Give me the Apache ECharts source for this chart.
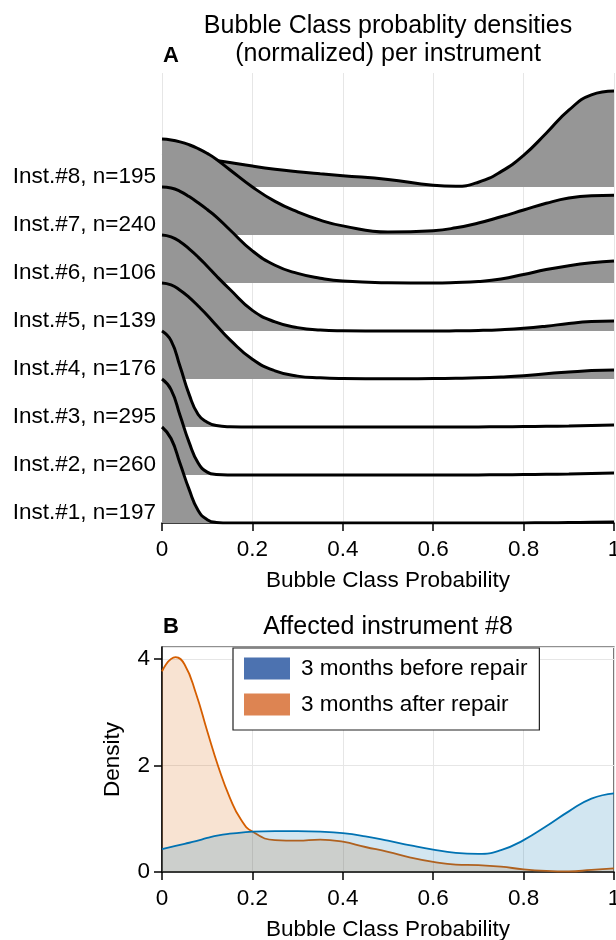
<!DOCTYPE html>
<html>
<head>
<meta charset="utf-8">
<script src="https://cdn.jsdelivr.net/npm/echarts@6/dist/echarts.min.js"></script>
<style>
  html, body { margin: 0; padding: 0; background: #fff; }
  #chart { width: 616px; height: 940px; }
</style>
</head>
<body>
<div id="chart"></div>
<script>
var FONT = '"Liberation Sans", Arial, Helvetica, sans-serif';

// panel A: normalized densities (max = 1) per instrument
var instLabels = ['Inst.#1, n=197', 'Inst.#2, n=260', 'Inst.#3, n=295', 'Inst.#4, n=176',
                  'Inst.#5, n=139', 'Inst.#6, n=106', 'Inst.#7, n=240', 'Inst.#8, n=195'];
var ridgeX = [0, 0.02, 0.04, 0.06, 0.08, 0.1, 0.12, 0.15, 0.2, 0.25, 0.3, 0.35, 0.4,
              0.5, 0.6, 0.65, 0.7, 0.75, 0.8, 0.85, 0.9, 0.95, 1];
var inst1 = [1.00, 0.88, 0.62, 0.35, 0.13, 0.035, 0.006, 0, 0, 0, 0, 0, 0, 0, 0, 0, 0, 0, 0.001, 0.002, 0.004, 0.007, 0.01];
var inst2 = [1.00, 0.89, 0.62, 0.34, 0.125, 0.03, 0.006, 0.001, 0, 0, 0, 0, 0, 0, 0, 0, 0.001, 0.002, 0.004, 0.007, 0.011, 0.016, 0.02];
var inst3 = [1.00, 0.90, 0.63, 0.34, 0.13, 0.05, 0.015, 0.003, 0, 0, 0, 0, 0, 0, 0, 0, 0.001, 0.002, 0.004, 0.007, 0.011, 0.016, 0.02];
var inst4 = [1.00, 0.98, 0.925, 0.85, 0.76, 0.665, 0.56, 0.41, 0.205, 0.085, 0.03, 0.012, 0.005, 0.002, 0.005, 0.008, 0.013, 0.022, 0.035, 0.055, 0.072, 0.088, 0.095];
var inst5 = [1.00, 0.98, 0.93, 0.855, 0.77, 0.675, 0.575, 0.435, 0.215, 0.095, 0.035, 0.01, 0.003, 0, 0, 0.002, 0.006, 0.014, 0.028, 0.05, 0.078, 0.098, 0.105];
var inst6 = [1.00, 0.99, 0.955, 0.90, 0.835, 0.765, 0.69, 0.555, 0.335, 0.185, 0.10, 0.05, 0.02, 0.003, 0, 0.005, 0.016, 0.042, 0.089, 0.14, 0.18, 0.21, 0.23];
var inst7 = [1.00, 0.99, 0.97, 0.94, 0.90, 0.85, 0.79, 0.68, 0.50, 0.35, 0.24, 0.155, 0.095, 0.03, 0.045, 0.075, 0.125, 0.19, 0.26, 0.33, 0.385, 0.41, 0.415];
var inst8 = [0.35, 0.345, 0.335, 0.322, 0.308, 0.293, 0.277, 0.255, 0.218, 0.186, 0.16, 0.138, 0.118, 0.078, 0.018, 0.008, 0.05, 0.16, 0.33, 0.56, 0.80, 0.96, 1.00];
var ridges = [inst1, inst2, inst3, inst4, inst5, inst6, inst7, inst8];
var ridgeScale = 2; // a ridge of max 1 spans two rows

// panel B: instrument #8 densities
var repairX = [0, 0.03, 0.05, 0.075, 0.1, 0.125, 0.15, 0.175, 0.2, 0.25, 0.3, 0.35, 0.4,
               0.45, 0.5, 0.55, 0.6, 0.65, 0.7, 0.75, 0.8, 0.85, 0.9, 0.95, 1];
var beforeRepair = [0.43, 0.49, 0.53, 0.58, 0.64, 0.69, 0.72, 0.74, 0.76, 0.77, 0.77, 0.76, 0.73,
                    0.67, 0.59, 0.50, 0.42, 0.36, 0.34, 0.41, 0.60, 0.86, 1.14, 1.38, 1.48];
var afterRepair = [3.77, 4.04, 3.90, 3.36, 2.65, 1.97, 1.40, 0.98, 0.76, 0.60, 0.59, 0.61, 0.57,
                   0.47, 0.38, 0.27, 0.19, 0.14, 0.13, 0.10, 0.05, 0.02, 0.01, 0.04, 0.07];

var chart = echarts.init(document.getElementById('chart'));

var series = [];
// #8 lowest z, so each lower ridge (fill and line) is painted over the ones above it
for (var k = ridges.length - 1; k >= 0; k--) {
  var d = ridges[k];
  series.push({
    name: instLabels[k],
    type: 'line',
    xAxisIndex: 0,
    yAxisIndex: 0,
    z: 2 + (ridges.length - 1 - k),
    smooth: 0.5,
    symbol: 'none',
    silent: true,
    data: ridgeX.map(function (x, i) { return [x, k + ridgeScale * d[i]]; }),
    lineStyle: { color: '#000', width: 3 },
    areaStyle: { color: '#969696', opacity: 1, origin: k }
  });
}

series.push({
  name: '3 months after repair',
  type: 'line',
  xAxisIndex: 1,
  yAxisIndex: 1,
  z: 2,
  smooth: 0.5,
  symbol: 'none',
  silent: true,
  data: repairX.map(function (x, i) { return [x, afterRepair[i]]; }),
  lineStyle: { color: '#d55e00', width: 1.8 },
  itemStyle: { color: '#d55e00' },
  areaStyle: { color: 'rgba(213,94,0,0.25)', origin: 0 }
});
series.push({
  name: '3 months before repair',
  type: 'line',
  xAxisIndex: 1,
  yAxisIndex: 1,
  z: 3,
  smooth: 0.5,
  symbol: 'none',
  silent: true,
  data: repairX.map(function (x, i) { return [x, beforeRepair[i]]; }),
  lineStyle: { color: '#0072b2', width: 1.8 },
  itemStyle: { color: '#0072b2' },
  areaStyle: { color: 'rgba(0,114,178,0.25)', origin: 0 }
});

var labelStyle = { fontFamily: FONT, fontSize: 22.5, color: '#000' };

var option = {
  backgroundColor: '#fff',
  animation: false,
  textStyle: { fontFamily: FONT },
  title: [
    {
      text: 'Bubble Class probablity densities\n(normalized) per instrument',
      left: 388, top: 12, padding: 0, textAlign: 'center',
      textStyle: { fontFamily: FONT, fontSize: 25, fontWeight: 'normal', lineHeight: 28, color: '#000' }
    },
    {
      text: 'A', left: 163, top: 45, padding: 0,
      textStyle: { fontFamily: FONT, fontSize: 22, fontWeight: 'bold', color: '#000' }
    },
    {
      text: 'Affected instrument #8',
      left: 388, top: 615, padding: 0, textAlign: 'center',
      textStyle: { fontFamily: FONT, fontSize: 25, fontWeight: 'normal', color: '#000' }
    },
    {
      text: 'B', left: 163, top: 616, padding: 0,
      textStyle: { fontFamily: FONT, fontSize: 22, fontWeight: 'bold', color: '#000' }
    }
  ],
  legend: {
    data: [
      { name: '3 months before repair', itemStyle: { color: '#4c72b0' } },
      { name: '3 months after repair', itemStyle: { color: '#dd8452' } }
    ],
    orient: 'vertical',
    left: 233,
    top: 648,
    icon: 'rect',
    itemWidth: 46,
    itemHeight: 22,
    itemGap: 13,
    padding: [9, 12, 14, 11],
    borderColor: '#222',
    borderWidth: 1.2,
    backgroundColor: '#fff',
    itemStyle: { borderWidth: 0 },
    textStyle: { fontFamily: FONT, fontSize: 22.5, color: '#000', padding: [0, 0, 0, 6] },
    selectedMode: false
  },
  grid: [
    { left: 162, top: 73, width: 452, height: 450, outerBoundsMode: 'none' },
    { left: 162, top: 647, width: 452, height: 225, show: true, borderColor: '#222',
      borderWidth: 1.2, backgroundColor: 'transparent', outerBoundsMode: 'none' }
  ],
  xAxis: [
    {
      gridIndex: 0, type: 'value', min: 0, max: 1, interval: 0.2,
      name: 'Bubble Class Probability', nameLocation: 'middle', nameGap: 46,
      nameTextStyle: labelStyle,
      axisLine: { show: true, lineStyle: { color: '#000', width: 1.5 } },
      axisTick: { show: true, length: 8, lineStyle: { color: '#000', width: 1.5 } },
      axisLabel: Object.assign({ margin: 15 }, labelStyle),
      splitLine: { show: true, lineStyle: { color: '#e6e6e6', width: 1 } }
    },
    {
      gridIndex: 1, type: 'value', min: 0, max: 1, interval: 0.2,
      name: 'Bubble Class Probability', nameLocation: 'middle', nameGap: 46,
      nameTextStyle: labelStyle,
      axisLine: { show: true, lineStyle: { color: '#000', width: 1.5 } },
      axisTick: { show: true, length: 8, lineStyle: { color: '#000', width: 1.5 } },
      axisLabel: Object.assign({ margin: 15 }, labelStyle),
      splitLine: { show: true, lineStyle: { color: '#e6e6e6', width: 1 } }
    }
  ],
  yAxis: [
    {
      gridIndex: 0, type: 'value', min: 0, max: 9.375, interval: 1,
      axisLine: { show: false },
      axisTick: { show: false },
      splitLine: { show: false },
      axisLabel: Object.assign({
        margin: 6,
        verticalAlign: 'bottom',
        lineHeight: 21,
        formatter: function (v) {
          return (v === Math.round(v) && v < instLabels.length) ? instLabels[v] : '';
        }
      }, labelStyle)
    },
    {
      gridIndex: 1, type: 'value', min: 0, max: 4.23, interval: 2,
      name: 'Density', nameLocation: 'middle', nameGap: 38, nameRotate: 90,
      nameTextStyle: labelStyle,
      axisLine: { show: true, lineStyle: { color: '#000', width: 1.5 } },
      axisTick: { show: true, length: 8, lineStyle: { color: '#000', width: 1.5 } },
      axisLabel: Object.assign({
        margin: 12,
        showMaxLabel: false,
        formatter: function (v) { return v % 2 === 0 ? String(v) : ''; }
      }, labelStyle),
      splitLine: { show: true, lineStyle: { color: '#e6e6e6', width: 1 } }
    }
  ],
  series: series
};

chart.setOption(option);
</script>
</body>
</html>
